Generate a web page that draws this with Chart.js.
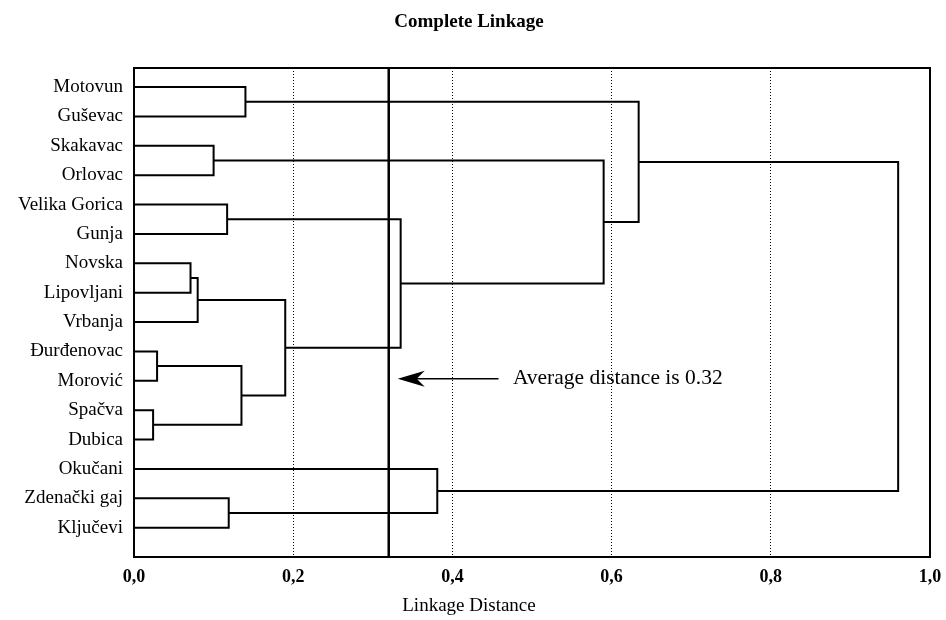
<!DOCTYPE html>
<html>
<head>
<meta charset="utf-8">
<script src="https://cdn.jsdelivr.net/npm/chart.js@4/dist/chart.umd.min.js"></script>
<style>
  html, body { margin: 0; padding: 0; background: #fff; }
  #wrap { width: 946px; height: 620px; }
</style>
</head>
<body>
<div id="wrap"><canvas id="c" width="946" height="620"></canvas></div>
<script>
// ---- data ----
const leaves = ["Motovun", "Guševac", "Skakavac", "Orlovac", "Velika Gorica", "Gunja",
  "Novska", "Lipovljani", "Vrbanja", "Đurđenovac", "Morović", "Spačva", "Dubica",
  "Okučani", "Zdenački gaj", "Ključevi"];
// merges: node ids 0..15 are leaves, merge k creates node 16+k
const mergeLeft   = [0, 2, 4, 6, 19, 9, 11, 21, 20, 18, 17, 16, 14, 13, 27];
const mergeRight  = [1, 3, 5, 7, 8, 10, 12, 22, 23, 24, 25, 26, 15, 28, 29];
const mergeHeight = [0.14, 0.10, 0.117, 0.071, 0.08, 0.029, 0.024, 0.135, 0.19, 0.335, 0.59, 0.634, 0.119, 0.381, 0.96];
const xTickValues = [0, 0.2, 0.4, 0.6, 0.8, 1.0];
const xTickLabels = ["0,0", "0,2", "0,4", "0,6", "0,8", "1,0"];
const averageDistance = 0.32;
const annotationText = "Average distance is 0.32";

// ---- build segments ----
const nodeX = leaves.map(() => 0);
const nodeY = leaves.map((_, i) => i);
const datasets = [];
for (let k = 0; k < mergeHeight.length; k++) {
  const l = mergeLeft[k], r = mergeRight[k], h = mergeHeight[k];
  datasets.push({
    data: [
      { x: nodeX[l], y: nodeY[l] },
      { x: h, y: nodeY[l] },
      { x: h, y: nodeY[r] },
      { x: nodeX[r], y: nodeY[r] }
    ],
    borderColor: '#000', borderWidth: 2, showLine: true, pointRadius: 0, fill: false, tension: 0
  });
  nodeX.push(h);
  nodeY.push((nodeY[l] + nodeY[r]) / 2);
}
const yMin = -0.65, yMax = 16;
datasets.push({
  data: [{ x: averageDistance, y: yMin }, { x: averageDistance, y: yMax }],
  borderColor: '#000', borderWidth: 2.5, showLine: true, pointRadius: 0
});

const serif = "'Liberation Serif', 'DejaVu Serif', serif";

const extras = {
  id: 'extras',
  afterDraw(chart) {
    const { ctx, chartArea: a, scales: { x, y } } = chart;
    ctx.save();
    ctx.strokeStyle = '#000';
    ctx.lineWidth = 2;
    ctx.strokeRect(a.left, a.top, a.right - a.left, a.bottom - a.top);
    // arrow
    const ay = y.getPixelForValue(9.93);
    const tip = x.getPixelForValue(averageDistance) + 9;
    const tail = x.getPixelForValue(0.458);
    ctx.lineWidth = 1.5;
    ctx.beginPath();
    ctx.moveTo(tail, ay);
    ctx.lineTo(tip + 6, ay);
    ctx.stroke();
    ctx.fillStyle = '#000';
    ctx.beginPath();
    ctx.moveTo(tip, ay);
    ctx.lineTo(tip + 27, ay - 8);
    ctx.lineTo(tip + 19, ay);
    ctx.lineTo(tip + 27, ay + 8);
    ctx.closePath();
    ctx.fill();
    ctx.font = "21.5px " + serif;
    ctx.textBaseline = 'middle';
    ctx.fillText(annotationText, x.getPixelForValue(0.476), ay);
    ctx.restore();
  }
};

new Chart(document.getElementById('c'), {
  type: 'scatter',
  data: { datasets },
  plugins: [extras],
  options: {
    responsive: false,
    animation: false,
    layout: { padding: { left: 8, right: 16, top: 0, bottom: 0 } },
    plugins: {
      legend: { display: false },
      tooltip: { enabled: false },
      title: {
        display: true, text: 'Complete Linkage', color: '#000',
        font: { family: serif, size: 19, weight: 'bold', lineHeight: 1.2 },
        padding: { top: 11, bottom: 34.2 }
      },
      subtitle: {
        display: true, position: 'bottom', text: 'Linkage Distance', color: '#000',
        font: { family: serif, size: 19, lineHeight: 1.2 },
        padding: { top: 0, bottom: 2.6 }
      }
    },
    scales: {
      x: {
        type: 'linear', min: 0, max: 1,
        afterBuildTicks: s => { s.ticks = xTickValues.map(v => ({ value: v })); },
        afterFit: s => { s.height = 37.6; s.paddingLeft = 0; s.paddingRight = 0; },
        ticks: {
          color: '#000', padding: 10,
          font: { family: serif, size: 18, weight: 'bold' },
          callback: (v, i) => xTickLabels[i]
        },
        grid: { display: true, color: '#000', lineWidth: 1, drawTicks: false },
        border: { display: false, dash: [1, 2] }
      },
      y: {
        type: 'linear', min: yMin, max: yMax, reverse: true,
        afterBuildTicks: s => { s.ticks = leaves.map((_, i) => ({ value: i })); },
        afterFit: s => { s.width = 126; s.paddingTop = 0; s.paddingBottom = 0; },
        ticks: {
          color: '#000', padding: 11, autoSkip: false,
          font: { family: serif, size: 19 },
          callback: v => leaves[v] !== undefined ? leaves[v] : ''
        },
        grid: { display: false, drawTicks: false },
        border: { display: false }
      }
    }
  }
});
</script>
</body>
</html>
